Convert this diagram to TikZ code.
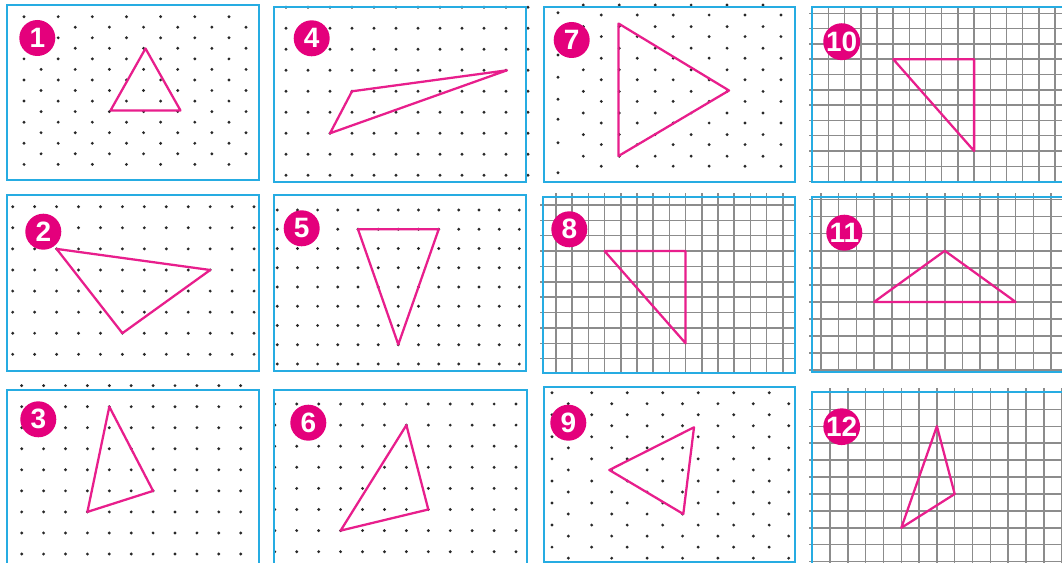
\documentclass[tikz,border=0pt]{standalone}
\usepackage{fontspec}
\newfontfamily\badgefont{Liberation Sans}
\definecolor{frameblue}{RGB}{38,172,226}
\definecolor{tripink}{RGB}{232,30,140}
\definecolor{badgepink}{RGB}{228,0,124}
\definecolor{gridgray}{RGB}{140,140,140}
\definecolor{dotgray}{RGB}{40,40,40}
\tikzset{
  panel/.style={draw=frameblue, line width=1.5pt},
  tri/.style={draw=tripink, line width=1.7pt, line join=round},
  gridln/.style={draw=gridgray, line width=1.1pt},
  badge/.style={circle, fill=badgepink, minimum size=27pt, inner sep=0pt, text=white,
    font=\badgefont\bfseries\fontsize{21}{21}\selectfont},
  pdot/.style={fill=dotgray},
}
\begin{document}
\begin{tikzpicture}[x=0.75pt,y=-0.75pt]
\useasboundingbox (0,0) rectangle (1062,563);
\fill[white] (0,0) rectangle (1062,563);

% ---------- dot lattices ----------
% panel 1 (isometric)
\foreach \k in {0,2,...,12} \foreach \j in {0,...,7}
  \fill[pdot] ({24+17.08*\k},{16.7+21.1*\j}) circle[radius=1.2pt];
\foreach \k in {1,3,...,13} \foreach \j in {0,...,6}
  \fill[pdot] ({24+17.08*\k},{27.2+21.1*\j}) circle[radius=1.2pt];
% panel 4 (square)
\foreach \i in {0,...,11} \foreach \j in {0,...,8}
  \fill[pdot] ({286+22*\i},{7.3+21*\j}) circle[radius=1.2pt];
% panel 7 (isometric)
\foreach \k in {0,2,...,10} \foreach \j in {0,...,7}
  \fill[pdot] ({583.3+17.97*\k},{5+21.6*\j}) circle[radius=1.2pt];
\foreach \k in {1,3,...,11} \foreach \j in {0,...,7}
  \fill[pdot] ({583.3+17.97*\k},{15+21.6*\j}) circle[radius=1.2pt];
\foreach \y in {12.7,55,77.3,99.3,119.3,142.7,172.7}
  \fill[pdot] (558,\y) circle[radius=1.2pt];
% panel 2 (square)
\foreach \i in {0,...,11} \foreach \j in {0,...,7}
  \fill[pdot] ({12.7+21.94*\i},{206.7+21.09*\j}) circle[radius=1.2pt];
% panel 5 (square)
\foreach \i in {0,...,12} \foreach \j in {0,...,8}
  \fill[pdot] ({277.3+20.17*\i},{210+19.25*\j}) circle[radius=1.2pt];
% panel 3 (square)
\foreach \i in {0,...,10} \foreach \j in {0,...,8}
  \fill[pdot] ({21.7+21.9*\i},{385.6+21.05*\j}) circle[radius=1.2pt];
% panel 6 (square)
\foreach \i in {0,...,11} \foreach \j in {0,...,7}
  \fill[pdot] ({274.8+21.93*\i},{404+21.1*\j}) circle[radius=1.2pt];
% panel 9 (isometric)
\foreach \r in {0,2,...,14} {
  \foreach \c in {0,...,5}
    \fill[pdot] ({591.7+35.5*\c},{392.7+11.03*\r}) circle[radius=1.2pt];
  \fill[pdot] (552,{392.7+11.03*\r}) circle[radius=1.2pt];
}
\foreach \r in {1,3,...,15} {
  \foreach \c in {0,...,5}
    \fill[pdot] ({611.7+35.4*\c},{392.7+11.03*\r}) circle[radius=1.2pt];
  \fill[pdot] (568.3,{392.7+11.03*\r}) circle[radius=1.2pt];
}

% ---------- square grids ----------
% panel 10
\foreach \i in {0,...,15} \draw[gridln] ({812.3+16.18*\i},7) -- ({812.3+16.18*\i},182);
\foreach \j in {0,...,11} \draw[gridln] (809,{13.3+15.3*\j}) -- (1066,{13.3+15.3*\j});
% panel 8
\foreach \i in {0,...,14} \draw[gridln] ({556+16.2*\i},193) -- ({556+16.2*\i},373);
\foreach \j in {0,...,10} \draw[gridln] (540,{205+15.37*\j}) -- (795,{205+15.37*\j});
% panel 11
\foreach \i in {0,...,13} \draw[gridln] ({821+17.69*\i},193) -- ({821+17.69*\i},372);
\foreach \j in {0,...,10} \draw[gridln] (809,{199.7+17.03*\j}) -- (1066,{199.7+17.03*\j});
% panel 12
\foreach \i in {0,...,13} \draw[gridln] ({830+17.82*\i},388) -- ({830+17.82*\i},566);
\foreach \j in {0,...,9} \draw[gridln] (809,{409.3+16.93*\j}) -- (1066,{409.3+16.93*\j});

% ---------- frames ----------
\draw[panel] (7,5) rectangle (259,180);
\draw[panel] (274,7) rectangle (526,182);
\draw[panel] (544,7) rectangle (795,182);
\draw[panel] (812,7) rectangle (1075,182);
\draw[panel] (7,195) rectangle (259,371);
\draw[panel] (274,195) rectangle (526,371);
\draw[panel] (543,197) rectangle (795,373);
\draw[panel] (812,197) rectangle (1075,372);
\draw[panel] (7,390) rectangle (259,575);
\draw[panel] (274,390) rectangle (527,575);
\draw[panel] (544,387) rectangle (795,562);
\draw[panel] (812,392) rectangle (1075,575);

% ---------- triangles ----------
\draw[tri] (145.5,48.5) -- (110.5,110.5) -- (180.5,110.5) -- cycle;
\draw[tri] (330,133.3) -- (352,91.3) -- (507,70.3) -- cycle;
\draw[tri] (618.5,23.5) -- (618.5,156) -- (729,90.5) -- cycle;
\draw[tri] (893.2,59.2) -- (974.1,59.2) -- (974.1,151) -- cycle;
\draw[tri] (56.6,248.9) -- (210.2,270) -- (122.4,333.2) -- cycle;
\draw[tri] (358,229.3) -- (438.7,229.3) -- (398.3,344.5) -- cycle;
\draw[tri] (604.6,251.1) -- (685.6,251.1) -- (685.6,343.3) -- cycle;
\draw[tri] (874.1,301.9) -- (944.8,250.8) -- (1015.6,301.9) -- cycle;
\draw[tri] (109.3,406.7) -- (153.1,490.9) -- (87.4,511.9) -- cycle;
\draw[tri] (406.4,425.1) -- (428.3,509.5) -- (340.6,530.6) -- cycle;
\draw[tri] (609.3,470) -- (694,427.3) -- (683.3,514) -- cycle;
\draw[tri] (936.9,426.2) -- (954.7,494) -- (901.3,527.8) -- cycle;

% ---------- badges ----------
\node[badge] (b1) at (37.3,38) {1};
\node[badge] (b4) at (311.7,38.3) {4};
\node[badge] (b7) at (571.7,40) {7};
\node[badge] (b10) at (841.7,41.7) {10};
\node[badge] (b2) at (43.3,231.7) {2};
\node[badge] (b5) at (301.7,228.3) {5};
\node[badge] (b8) at (569.3,229.3) {8};
\node[badge] (b11) at (844.3,232.7) {11};
\node[badge] (b3) at (38.3,419.3) {3};
\node[badge] (b6) at (308.3,422.7) {6};
\node[badge] (b9) at (568.3,422.7) {9};
\node[badge] (b12) at (841.7,426.7) {12};
\end{tikzpicture}
\end{document}
